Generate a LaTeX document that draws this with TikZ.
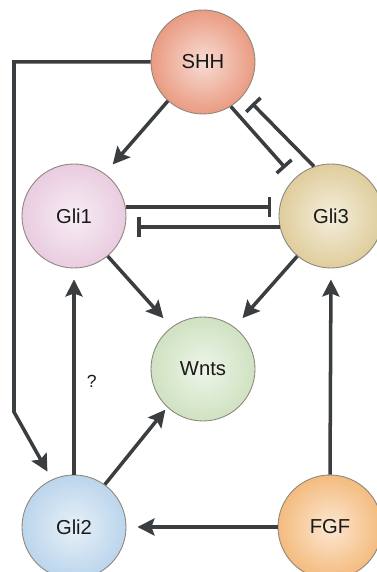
\documentclass[tikz,border=0pt]{standalone}
\usepackage{fontspec}
\setmainfont{Liberation Sans}
\usepackage{xcolor}
\usepackage{tikz}
\usetikzlibrary{arrows.meta,calc,positioning}
\definecolor{gline}{HTML}{3A3E41}
\definecolor{grim}{HTML}{8C867C}
\definecolor{gshh}{HTML}{EA9B82}
\definecolor{ggli1}{HTML}{E9CCE0}
\definecolor{ggli3}{HTML}{DFCD9C}
\definecolor{gwnts}{HTML}{CFE2C1}
\definecolor{ggli2}{HTML}{BBD5EC}
\definecolor{gfgf}{HTML}{F4BB7E}
\tikzset{
  >={Stealth[length=3.4mm, width=3.4mm, inset=0.6mm]},
  gcell/.style={circle, draw=grim, line width=0.5pt, minimum size=2.08cm,
                inner sep=0pt, text=black!90, font=\fontsize{11.5}{13}\selectfont},
  gtone/.style={inner color=#1!35!white, outer color=#1},
  gact/.style={->, draw=gline, line width=2pt, shorten >=2.2mm},
  ginh/.style={-{Bar[width=4mm]}, draw=gline, line width=2pt, shorten >=2.4mm},
  gnote/.style={text=black!90, font=\fontsize{10}{12}\selectfont},
}

\begin{document}
\begin{tikzpicture}[x=1cm,y=1cm]

  \useasboundingbox (0,0) rectangle (7.52,11.44);

  % celulas / sinais
  \node[gcell, gtone=gshh]  (SHH)  at (4.06,10.20) {SHH};
  \node[gcell, gtone=ggli1] (Gli1) at (1.48,7.12)  {Gli1};
  \node[gcell, gtone=ggli3] (Gli3) at (6.62,7.12)  {Gli3};
  \node[gcell, gtone=gwnts] (Wnts) at (4.06,4.06)  {Wnts};
  \node[gcell, gtone=ggli2] (Gli2) at (1.48,0.90)  {Gli2};
  \node[gcell, gtone=gfgf]  (FGF)  at (6.60,0.90)  {FGF};

  % ativacao
  \coordinate (knee) at (0.28,3.20);
  \draw[gact, shorten >=1.8mm] (SHH.west) -| (knee) -- (Gli2.115);
  \draw[gact, shorten >=2.4mm] (SHH.228) -- (Gli1.54);
  \draw[gact, shorten >=2.4mm] (Gli1.-50) -- (Wnts.127);
  \draw[gact, shorten >=2.4mm] (Gli3.-130) -- (Wnts.53);
  \draw[gact] (Gli2.north) -- (Gli1.south)
    node[gnote, pos=0.45, right=3pt] {?};
  \draw[gact, shorten >=0.6mm] (Gli2.54) -- (Wnts.227);
  \draw[gact] (FGF.west) -- (Gli2.east);
  \draw[gact] (FGF.north) -- (Gli3.south);

  % inibicao
  \draw[ginh, shorten >=2.8mm] (SHH.-58) -- (Gli3.134);
  \draw[ginh] (Gli3.109) -- (SHH.-39);
  \draw[ginh, shorten >=1.6mm] (Gli1.10) -- (Gli3.170);
  \draw[ginh] (Gli3.-168) -- (Gli1.-12);

\end{tikzpicture}
\end{document}
